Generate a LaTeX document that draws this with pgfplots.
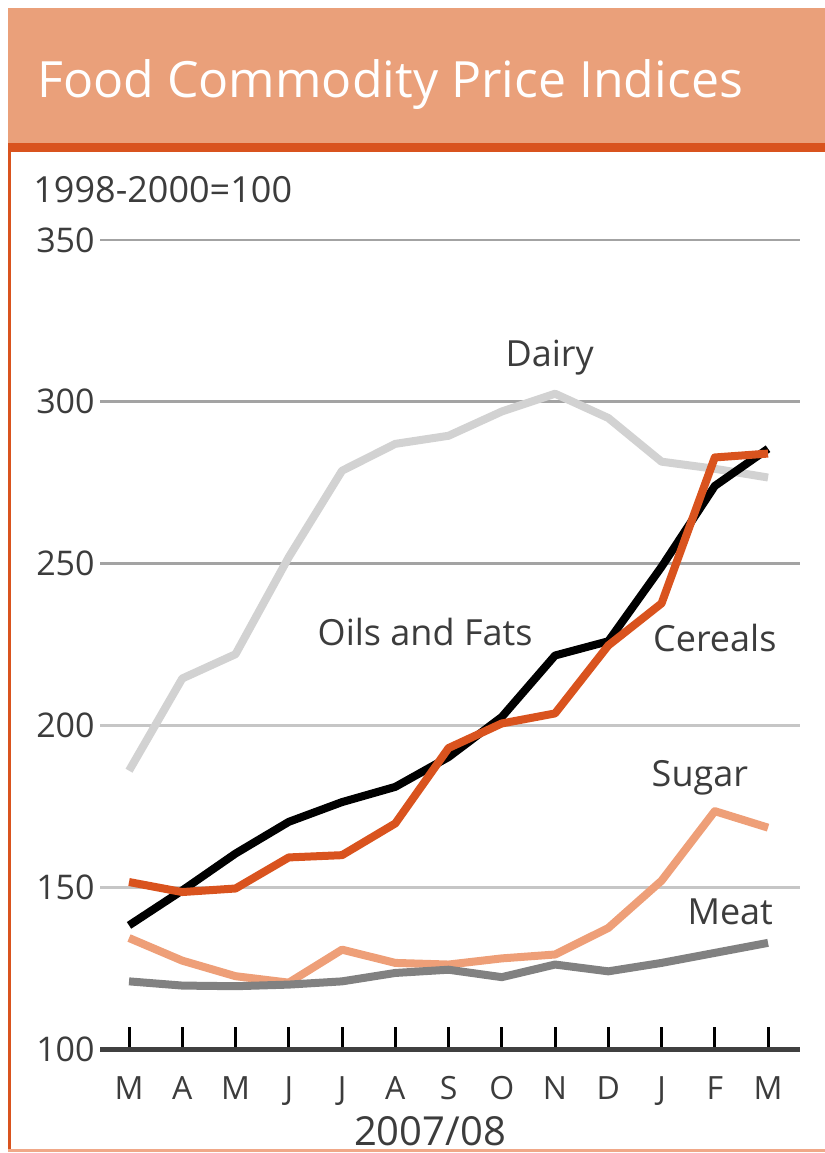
\documentclass[border=0pt]{standalone}
\usepackage{fontspec}
\setmainfont{Open Sans}
\usepackage{pgfplots}
\pgfplotsset{compat=1.18}
\definecolor{titlebg}{HTML}{EAA07A}
\definecolor{brand}{HTML}{D9531E}
\definecolor{bottomline}{HTML}{F0A888}
\definecolor{dairy}{HTML}{D2D2D2}
\definecolor{sugar}{HTML}{EE9F78}
\definecolor{meat}{HTML}{818181}
\definecolor{griddark}{HTML}{A3A3A3}
\definecolor{gridlight}{HTML}{C6C6C6}
\definecolor{axiscol}{HTML}{404040}
\definecolor{txt}{HTML}{3C3C3C}
\begin{document}
\begin{tikzpicture}[x=1pt,y=1pt]
\useasboundingbox (0,0) rectangle (412.5,576.5);
\fill[titlebg] (4,505) rectangle (412.5,572.5);
\fill[brand] (4,500.5) rectangle (412.5,505);
\fill[brand] (4,1.5) rectangle (5.5,500.5);
\fill[bottomline] (4,0.5) rectangle (412.5,2);
\node[anchor=base west, inner sep=0pt, text=white, font=\fontsize{25}{30}\selectfont] at (18.5,527.5) {Food Commodity Price Indices};
\node[anchor=west, inner sep=0pt, text=txt, font=\fontsize{18}{20}\selectfont] at (16.5,481.5) {1998-2000=100};
\begin{axis}[
  at={(50pt,52pt)}, anchor=south west, scale only axis,
  width=350pt, height=404.5pt,
  xmin=-0.545, xmax=12.6, ymin=100, ymax=350,
  clip=false,
  axis x line*=bottom, axis y line*=left,
  y axis line style={draw=none},
  x axis line style={draw=axiscol, line width=2.5pt, -},
  xtick={0,...,12},
  xticklabels={M,A,M,J,J,A,S,O,N,D,J,F,M},
  xtick align=inside,
  major tick length=11pt,
  xtick style={draw=black, line width=1.5pt},
  ytick style={draw=none},
  xticklabel style={anchor=north, inner sep=0pt, yshift=-13.5pt, text=txt, font=\fontsize{16}{18}\selectfont},
  ytick={100,250,300,350},
  extra y ticks={150,200},
  extra y tick style={grid style={gridlight, line width=1.3pt}},
  ymajorgrids,
  grid style={griddark, line width=1.3pt},
  yticklabel style={anchor=east, inner sep=0pt, xshift=-2.5pt, text=txt, font=\fontsize{17}{18}\selectfont},
  /pgf/number format/assume math mode=true,
  every axis plot/.append style={line width=4pt, line join=round, mark=none},
]
\addplot[dairy] coordinates {(0,186) (1,214.5) (2,222) (3,252) (4,278.7) (5,287) (6,289.5) (7,297) (8,302.5) (9,295) (10,281.5) (11,279.3) (12,276.6)};
\addplot[sugar] coordinates {(0,134.3) (1,127.3) (2,122.5) (3,120.5) (4,130.7) (5,126.6) (6,126.1) (7,128) (8,129.2) (9,137.4) (10,152) (11,173.5) (12,168.4)};
\addplot[meat] coordinates {(0,120.9) (1,119.6) (2,119.4) (3,119.9) (4,120.9) (5,123.5) (6,124.5) (7,122.2) (8,126.1) (9,124) (10,126.6) (11,129.7) (12,132.8)};
\addplot[black] coordinates {(0,138.2) (1,149) (2,160.4) (3,170.2) (4,176.3) (5,181) (6,190.2) (7,202.6) (8,221.6) (9,226) (10,249) (11,274) (12,285.5)};
\addplot[brand] coordinates {(0,151.6) (1,148.5) (2,149.6) (3,159.2) (4,159.9) (5,169.7) (6,193) (7,200.6) (8,203.7) (9,224.7) (10,237.7) (11,282.8) (12,284)};
\node[text=txt, font=\fontsize{18}{20}\selectfont] at (axis cs:7.9,313.8) {Dairy};
\node[text=txt, font=\fontsize{18}{20}\selectfont] at (axis cs:5.56,228.9) {Oils and Fats};
\node[text=txt, font=\fontsize{18}{20}\selectfont] at (axis cs:11.0,227.0) {Cereals};
\node[text=txt, font=\fontsize{18}{20}\selectfont] at (axis cs:10.72,183.7) {Sugar};
\node[text=txt, font=\fontsize{18}{20}\selectfont] at (axis cs:11.29,142.3) {Meat};
\end{axis}
\node[text=txt, font=\fontsize{20}{22}\selectfont] at (215,11) {2007/08};
\end{tikzpicture}
\end{document}
